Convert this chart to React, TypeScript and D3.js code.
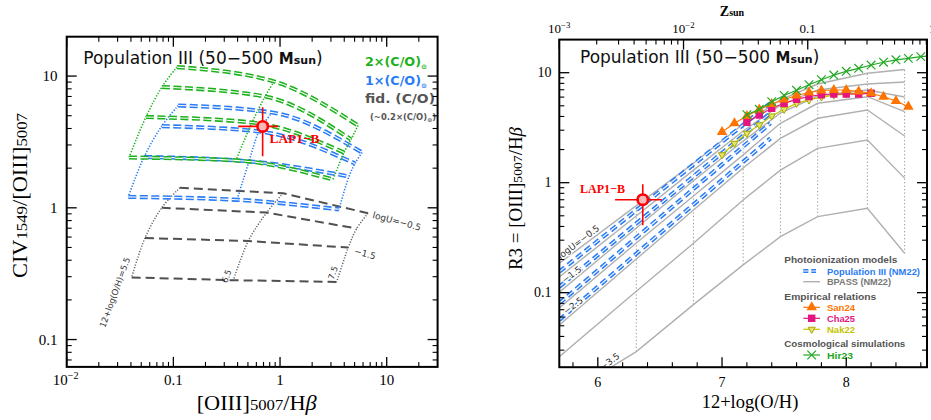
import React from 'react';
import * as d3 from 'd3';

// ================= LEFT PANEL DATA =================
const LEFT_X_MAJOR = [0.01, 0.1, 1, 10];
const LEFT_X_LABELS = ['10^−2', '0.1', '1', '10'];
const LEFT_Y_MAJOR = [0.1, 1, 10];
const LEFT_Y_LABELS = ['0.1', '1', '10'];

// rows: logU (top -> bottom); columns: 12+log(O/H) = 5.5, 6.5, 7.5
const GRID_OH_LABELS = ['12+log(O/H)=5.5', '6.5', '7.5'];
const FID_O3HB = [[0.115, 1.07, 6.68], [0.0778, 0.75, 5.23], [0.0542, 0.504, 4.36], [0.0406, 0.365, 3.4]];
const FID_C4O3 = [[1.42, 1.29, 0.909], [1.0, 0.92, 0.696], [0.59, 0.56, 0.499], [0.296, 0.282, 0.274]];
const CO1_O3HB = [[0.111, 0.841, 5.87], [0.0778, 0.635, 5.05], [0.0531, 0.512, 4.43], [0.0378, 0.395, 3.57]];
const CO1_C4O3 = [[5.98, 5.29, 2.63], [4.17, 3.8, 2.17], [2.43, 2.25, 1.73], [1.21, 1.15, 0.974]];
const CO2_O3HB = [[0.108, 0.877, 5.38], [0.0781, 0.723, 4.63], [0.0553, 0.546, 3.98], [0.0384, 0.386, 3.14]];
const CO2_C4O3 = [[11.7, 9.09, 4.22], [8.26, 6.99, 3.3], [4.89, 4.44, 2.63], [2.41, 2.29, 1.64]];

const LAP1B_O3HB = 0.687;
const LAP1B_O3HB_ERR = [0.405, 0.96];
const LAP1B_C4O3 = 4.15;
const LAP1B_C4O3_ERR = [2.46, 5.8];

// ================= RIGHT PANEL DATA =================
const RIGHT_X_MAJOR = [6, 7, 8];
const RIGHT_Y_MAJOR = [0.1, 1, 10];
const RIGHT_Y_LABELS = ['0.1', '1', '10'];
const ZSUN_OH = 8.69;
const TOP_Z_MAJOR = [0.001, 0.01, 0.1, 1];
const TOP_Z_LABELS = ['10^−3', '10^−2', '0.1', '1'];

const BPASS_OH = [5.69, 6.31, 6.77, 7.17, 7.47, 7.77, 8.17, 8.47];
const BPASS_LOGU = ['−0.5', '−1.0', '−1.5', '−2.0', '−2.5', '−3.0', '−3.5'];
const BPASS_R3 = [
  [0.185, 0.618, 1.5, 3.42, 5.65, 7.89, 9.88, 10.7],
  [0.139, 0.498, 1.3, 2.95, 5.08, 6.97, 7.89, 8.22],
  [0.101, 0.387, 1.04, 2.39, 4.3, 6.14, 6.97, 6.01],
  [0.0726, 0.283, 0.757, 1.79, 3.47, 5.27, 6.05, 4.42],
  [0.0508, 0.202, 0.565, 1.36, 2.53, 3.85, 4.58, 2.66],
  [0.0262, 0.103, 0.281, 0.697, 1.3, 2.05, 2.44, 1.1],
  [0.0108, 0.0291, 0.0778, 0.179, 0.323, 0.491, 0.585, 0.228],
];
const POP3_OH = [5.69, 7.39];
const POP3_R3 = [[0.155, 5.3], [0.113, 4.3], [0.0801, 3.47], [0.0565, 2.53]];

const SAN24_OH = [7.0, 7.1, 7.2, 7.3, 7.4, 7.5, 7.6, 7.7, 7.8, 7.9, 8.0, 8.1, 8.2, 8.3, 8.4, 8.5];
const SAN24_R3 = [2.89, 3.47, 4.04, 4.63, 5.19, 5.71, 6.21, 6.61, 6.89, 6.96, 6.96, 6.75, 6.5, 6.05, 5.53, 4.91];
const CHA25_OH = [7.2, 7.3, 7.4, 7.5, 7.6, 7.7, 7.8, 7.9, 8.0, 8.1, 8.2];
const CHA25_R3 = [3.54, 4.12, 4.75, 5.27, 5.73, 6.08, 6.31, 6.4, 6.4, 6.4, 6.5];
const NAK22_OH = [7.0, 7.1, 7.2, 7.3, 7.4, 7.5, 7.6, 7.7, 7.8, 7.9, 8.0, 8.1, 8.2];
const NAK22_R3 = [1.79, 2.28, 2.81, 3.35, 4.04, 4.65, 5.27, 5.65, 6.01, 6.27, 6.4, 6.47, 6.54];
const HIR23_OH = [7.2, 7.3, 7.4, 7.5, 7.6, 7.7, 7.8, 7.9, 8.0, 8.1, 8.2, 8.3, 8.4, 8.5, 8.6, 8.7];
const HIR23_R3 = [4.15, 4.65, 5.45, 6.21, 6.92, 7.78, 8.64, 9.52, 10.3, 10.96, 11.75, 12.45, 13.1, 13.5, 14.0, 14.3];

const LAP1B_OH = 6.362;
const LAP1B_OH_ERR = [6.139, 6.515];
const LAP1B_R3 = 0.7;
const LAP1B_R3_ERR = [0.41, 0.967];

// ================= STYLE =================
const GREEN = '#1db21d';
const BLUE = '#2a7cf5';
const FIDGREY = '#505050';
const ORANGE = '#ff7300';
const MAGENTA = '#e5157f';
const YELLOW = '#c4c400';
const HGREEN = '#22a822';
const RED = '#ff0000';
const SERIF = '"Liberation Serif", "Times New Roman", serif';
const SANS = '"DejaVu Sans", sans-serif';
const LSANS = '"Liberation Sans", Arial, sans-serif';

function logMinors(lo: number, hi: number) {
  const out: number[] = [];
  for (let k = -5; k <= 2; k++) for (let m = 2; m <= 9; m++) {
    const v = m * Math.pow(10, k);
    if (v > lo * 1.0001 && v < hi * 0.9999) out.push(v);
  }
  return out;
}

function interpLog(xs: number[], ys: number[], x: number) {
  for (let i = 0; i < xs.length - 1; i++) {
    if (x >= xs[i] && x <= xs[i + 1]) {
      const t = (x - xs[i]) / (xs[i + 1] - xs[i]);
      return Math.pow(10, Math.log10(ys[i]) + t * (Math.log10(ys[i + 1]) - Math.log10(ys[i])));
    }
  }
  return ys[ys.length - 1];
}

function SupLabel({ x, y, label, size, anchor = 'middle' }: any) {
  if (label.includes('^')) {
    const [b, e] = label.split('^');
    return (
      <text x={x} y={y} textAnchor={anchor} fontFamily={SERIF} fontSize={size}>
        <tspan>{b}</tspan>
        <tspan dy={-size * 0.42} fontSize={size * 0.68}>{e}</tspan>
      </text>
    );
  }
  return <text x={x} y={y} textAnchor={anchor} fontFamily={SERIF} fontSize={size}>{label}</text>;
}

function DoubleDash({ d, color, dash, w = 4.2 }: any) {
  return (
    <g>
      <path d={d} fill="none" stroke={color} strokeWidth={w} strokeDasharray={dash} />
      <path d={d} fill="none" stroke="#fff" strokeWidth={1.1} strokeDasharray={dash} />
    </g>
  );
}

function Title({ x, y }: any) {
  return (
    <text x={x} y={y} fontFamily={SANS} fontSize={17} fill="#111">
      Population III (50−500 <tspan fontWeight="bold" fontSize={15}>M</tspan><tspan fontWeight="bold" fontSize={11}>sun</tspan><tspan fontSize={17}>)</tspan>
    </text>
  );
}

export default function App() {
  const xL = d3.scaleLog().domain([0.01, 30]).range([66.7, 437.6]);
  const yL = d3.scaleLog().domain([0.062, 19.9]).range([366.9, 36.7]);
  const xR = d3.scaleLinear().domain([5.69, 8.65]).range([559.3, 927]);
  const yR = d3.scaleLog().domain([0.021, 20]).range([367.2, 39.6]);

  const L = { x0: 66.7, x1: 437.6, y0: 36.7, y1: 366.9 };
  const R = { x0: 559.3, x1: 927, y0: 39.6, y1: 367.2 };

  const lineL = d3.line<number[]>().x((d) => xL(d[0])).y((d) => yL(d[1]));
  const lineLsmooth = d3.line<number[]>().x((d) => xL(d[0])).y((d) => yL(d[1])).curve(d3.curveMonotoneX);
  const lineLcol = d3.line<number[]>().x((d) => xL(d[0])).y((d) => yL(d[1])).curve(d3.curveCatmullRom.alpha(0.5));
  const lineR = d3.line<number[]>().x((d) => xR(d[0])).y((d) => yR(d[1]));

  const rows = (X: number[][], Y: number[][]) => X.map((r, i) => r.map((x, j) => [x, Y[i][j]]));
  const cols = (X: number[][], Y: number[][]) => X[0].map((_, j) => X.map((r, i) => [r[j], Y[i][j]]));

  const fidRows = rows(FID_O3HB, FID_C4O3);
  const fidCols = cols(FID_O3HB, FID_C4O3);
  const co1Rows = rows(CO1_O3HB, CO1_C4O3);
  const co1Cols = cols(CO1_O3HB, CO1_C4O3);
  const co2Rows = rows(CO2_O3HB, CO2_C4O3);
  const co2Cols = cols(CO2_O3HB, CO2_C4O3);

  const lxMinor = logMinors(0.01, 30);
  const lyMinor = logMinors(0.062, 19.9);
  const ryMinor = logMinors(0.021, 20);
  const rxMinor = d3.range(5.8, 8.65, 0.2).filter((v) => Math.abs(v - Math.round(v)) > 0.05);
  const topMinor = logMinors(0.001, Math.pow(10, 8.65 - ZSUN_OH)).map((z) => ZSUN_OH + Math.log10(z));
  const topMajor = TOP_Z_MAJOR.map((z) => ZSUN_OH + Math.log10(z));

  const MAJ = 10, MIN = 5;

  const sym = (type: any, size: number) => d3.symbol().type(type).size(size)() as string;
  const triUp = sym(d3.symbolTriangle, 48);
  const triDn = sym(d3.symbolTriangle, 22);
  const square = sym(d3.symbolSquare, 55);
  const xMark = sym(d3.symbolX, 50);

  const fidEnd0 = fidRows[0][2];
  const fidEnd2 = fidRows[2][2];
  const lblOH = [5.871, 5.817, 5.829, 6.123];
  const lblRows = [0, 2, 4, 6];

  return (
    <svg width={931} height={420} style={{ position: 'absolute', left: 0, top: 0, background: '#fff' }}>
      <defs>
        <clipPath id="clipL"><rect x={L.x0} y={L.y0} width={L.x1 - L.x0} height={L.y1 - L.y0} /></clipPath>
        <clipPath id="clipR"><rect x={R.x0} y={R.y0} width={R.x1 - R.x0} height={R.y1 - R.y0} /></clipPath>
      </defs>

      {/* ================= LEFT PANEL ================= */}
      <g clipPath="url(#clipL)">
        {fidCols.map((c, i) => (
          <path key={'fc' + i} d={lineLcol(c) as string} fill="none" stroke="#666" strokeWidth={1.5} strokeDasharray="1.2 1.6" />
        ))}
        {fidRows.map((r, i) => (
          <path key={'fr' + i} d={lineL(r) as string} fill="none" stroke={FIDGREY} strokeWidth={2} strokeDasharray="9 5" />
        ))}
        {co1Cols.map((c, i) => (
          <path key={'bc' + i} d={lineLcol(c) as string} fill="none" stroke={BLUE} strokeWidth={1.6} strokeDasharray="1.3 1.6" />
        ))}
        {co1Rows.map((r, i) => (
          <DoubleDash key={'br' + i} d={lineLsmooth(r)} color={BLUE} dash="8 3.5" />
        ))}
        {co2Cols.map((c, i) => (
          <path key={'gc' + i} d={lineLcol(c) as string} fill="none" stroke={GREEN} strokeWidth={1.6} strokeDasharray="1.3 1.6" />
        ))}
        {co2Rows.map((r, i) => (
          <DoubleDash key={'gr' + i} d={lineLsmooth(r)} color={GREEN} dash="8 3.5" />
        ))}

        <line x1={xL(LAP1B_O3HB_ERR[0])} x2={xL(LAP1B_O3HB_ERR[1])} y1={yL(LAP1B_C4O3)} y2={yL(LAP1B_C4O3)} stroke={RED} strokeWidth={1.6} />
        <line x1={xL(LAP1B_O3HB)} x2={xL(LAP1B_O3HB)} y1={yL(LAP1B_C4O3_ERR[0])} y2={yL(LAP1B_C4O3_ERR[1])} stroke={RED} strokeWidth={1.6} />
        <circle cx={xL(LAP1B_O3HB)} cy={yL(LAP1B_C4O3)} r={5.2} fill="#f7b8b8" stroke={RED} strokeWidth={2.6} />
      </g>

      <text transform={`translate(${xL(fidEnd0[0]) + 28},${yL(fidEnd0[1]) + 11}) rotate(15)`} textAnchor="middle" fontFamily={SANS} fontSize={9} fill="#333">logU=−0.5</text>
      <text transform={`translate(${xL(fidEnd2[0]) + 16},${yL(fidEnd2[1]) + 9}) rotate(15)`} textAnchor="middle" fontFamily={SANS} fontSize={9} fill="#333">−1.5</text>
      {fidRows[3].map((p, j) => {
        const off = [[-14, 16], [-4, -3], [-1, -8]][j];
        return (
          <text key={'ohl' + j} transform={`translate(${xL(p[0]) + off[0]},${yL(p[1]) + off[1]}) rotate(-70)`} textAnchor="middle" fontFamily={SANS} fontSize={8.5} fill="#333">{GRID_OH_LABELS[j]}</text>
        );
      })}
      <text x={269.5} y={143.3} fontFamily={SERIF} fontWeight="bold" fontSize={13} fill={RED} textLength={50} lengthAdjust="spacingAndGlyphs">LAP1−B</text>

      <Title x={83.3} y={64} />
      <text x={365} y={66} fontFamily={SANS} fontWeight="bold" fontSize={12.5} fill={GREEN} textLength={62} lengthAdjust="spacingAndGlyphs">
        2×(C/O)<tspan fontSize={7} dy={3}>⊙</tspan>
      </text>
      <text x={365} y={84.5} fontFamily={SANS} fontWeight="bold" fontSize={12.5} fill={BLUE} textLength={62} lengthAdjust="spacingAndGlyphs">
        1×(C/O)<tspan fontSize={7} dy={3}>⊙</tspan>
      </text>
      <text x={365} y={103} fontFamily={SANS} fontWeight="bold" fontSize={12.5} fill="#555" textLength={70} lengthAdjust="spacingAndGlyphs">fid. (C/O)</text>
      <text x={370} y={120} fontFamily={SANS} fontWeight="bold" fontSize={8.5} fill="#555" textLength={66} lengthAdjust="spacingAndGlyphs">
        (~0.2×(C/O)<tspan fontSize={6} dy={2}>⊙</tspan><tspan dy={-2}>)</tspan>
      </text>

      {/* left axes */}
      <rect x={L.x0} y={L.y0} width={L.x1 - L.x0} height={L.y1 - L.y0} fill="none" stroke="#000" strokeWidth={2} />
      {LEFT_X_MAJOR.map((v) => (
        <g key={'lxm' + v}>
          <line x1={xL(v)} x2={xL(v)} y1={L.y1} y2={L.y1 - MAJ} stroke="#000" strokeWidth={1.3} />
          <line x1={xL(v)} x2={xL(v)} y1={L.y0} y2={L.y0 + MAJ} stroke="#000" strokeWidth={1.3} />
        </g>
      ))}
      {lxMinor.map((v) => (
        <g key={'lxn' + v}>
          <line x1={xL(v)} x2={xL(v)} y1={L.y1} y2={L.y1 - MIN} stroke="#000" strokeWidth={1.1} />
          <line x1={xL(v)} x2={xL(v)} y1={L.y0} y2={L.y0 + MIN} stroke="#000" strokeWidth={1.1} />
        </g>
      ))}
      {LEFT_Y_MAJOR.map((v) => (
        <g key={'lym' + v}>
          <line x1={L.x0} x2={L.x0 + MAJ} y1={yL(v)} y2={yL(v)} stroke="#000" strokeWidth={1.3} />
          <line x1={L.x1} x2={L.x1 - MAJ} y1={yL(v)} y2={yL(v)} stroke="#000" strokeWidth={1.3} />
        </g>
      ))}
      {lyMinor.map((v) => (
        <g key={'lyn' + v}>
          <line x1={L.x0} x2={L.x0 + MIN} y1={yL(v)} y2={yL(v)} stroke="#000" strokeWidth={1.1} />
          <line x1={L.x1} x2={L.x1 - MIN} y1={yL(v)} y2={yL(v)} stroke="#000" strokeWidth={1.1} />
        </g>
      ))}
      {LEFT_X_MAJOR.map((v, i) => (
        <SupLabel key={'lxl' + v} x={xL(v) - (i === 0 ? 1 : 0)} y={385} label={LEFT_X_LABELS[i]} size={15} />
      ))}
      {LEFT_Y_MAJOR.map((v, i) => (
        <SupLabel key={'lyl' + v} x={57.5} y={yL(v) + 5} label={LEFT_Y_LABELS[i]} size={15} anchor="end" />
      ))}
      <text x={256.7} y={410} textAnchor="middle" fontFamily={SERIF} fontSize={20} textLength={120} lengthAdjust="spacingAndGlyphs">
        [OIII]<tspan fontSize={15}>5007</tspan>/H<tspan fontStyle="italic">β</tspan>
      </text>
      <text transform="translate(27,195.5) rotate(-90)" textAnchor="middle" fontFamily={SERIF} fontSize={20} textLength={165} lengthAdjust="spacingAndGlyphs">
        CIV<tspan fontSize={15}>1549</tspan>/[OIII]<tspan fontSize={15}>5007</tspan>
      </text>

      {/* ================= RIGHT PANEL ================= */}
      <g clipPath="url(#clipR)">
        {BPASS_OH.slice(1).map((x, k) => (
          <line key={'vd' + k} x1={xR(x)} x2={xR(x)} y1={yR(BPASS_R3[6][k + 1])} y2={yR(BPASS_R3[0][k + 1])} stroke="#999" strokeWidth={1} strokeDasharray="1.3 2.2" />
        ))}
        {BPASS_R3.map((r, i) => (
          <path key={'bp' + i} d={lineR(BPASS_OH.map((x, j) => [x, r[j]])) as string} fill="none" stroke="#b0b0b0" strokeWidth={1.4} />
        ))}
        {POP3_R3.map((r, i) => (
          <DoubleDash key={'p3' + i} d={lineR(POP3_OH.map((x, j) => [x, r[j]]))} color={BLUE} dash="7 4" />
        ))}
        <path d={lineR(NAK22_OH.map((x, j) => [x, NAK22_R3[j]])) as string} fill="none" stroke={YELLOW} strokeWidth={1.3} />
        {NAK22_OH.map((x, j) => (
          <path key={'nk' + j} d={triDn} transform={`translate(${xR(x)},${yR(NAK22_R3[j])}) rotate(180)`} fill="#e4e46a" stroke="#a8a800" strokeWidth={1} />
        ))}
        <path d={lineR(CHA25_OH.map((x, j) => [x, CHA25_R3[j]])) as string} fill="none" stroke={MAGENTA} strokeWidth={1.2} />
        {CHA25_OH.map((x, j) => (
          <path key={'ch' + j} d={square} transform={`translate(${xR(x)},${yR(CHA25_R3[j])})`} fill={MAGENTA} />
        ))}
        <path d={lineR(SAN24_OH.map((x, j) => [x, SAN24_R3[j]])) as string} fill="none" stroke={ORANGE} strokeWidth={1.2} />
        {SAN24_OH.map((x, j) => (
          <path key={'sa' + j} d={triUp} transform={`translate(${xR(x)},${yR(SAN24_R3[j])})`} fill={ORANGE} />
        ))}
        <path d={lineR(HIR23_OH.map((x, j) => [x, HIR23_R3[j]])) as string} fill="none" stroke={HGREEN} strokeWidth={1.2} />
        {HIR23_OH.map((x, j) => (
          <path key={'hi' + j} d={xMark} transform={`translate(${xR(x)},${yR(HIR23_R3[j])})`} fill="none" stroke={HGREEN} strokeWidth={1.2} />
        ))}
        {lblRows.map((ri, k) => {
          const x = lblOH[k];
          const y = interpLog(BPASS_OH, BPASS_R3[ri], x);
          return (
            <text key={'ul' + k} transform={`translate(${xR(x)},${yR(y)}) rotate(-37)`} dy={-2.5} textAnchor="middle" fontFamily={SANS} fontSize={9} fill="#333" stroke="#fff" strokeWidth={2.5} paintOrder="stroke">
              {k === 0 ? 'logU=' + BPASS_LOGU[ri] : BPASS_LOGU[ri]}
            </text>
          );
        })}
        <line x1={xR(LAP1B_OH_ERR[0])} x2={xR(LAP1B_OH_ERR[1])} y1={yR(LAP1B_R3)} y2={yR(LAP1B_R3)} stroke={RED} strokeWidth={1.6} />
        <line x1={xR(LAP1B_OH)} x2={xR(LAP1B_OH)} y1={yR(LAP1B_R3_ERR[0])} y2={yR(LAP1B_R3_ERR[1])} stroke={RED} strokeWidth={1.6} />
        <circle cx={xR(LAP1B_OH)} cy={yR(LAP1B_R3)} r={5.2} fill="#f7b8b8" stroke={RED} strokeWidth={2.6} />
      </g>
      <text x={580} y={192.5} fontFamily={SERIF} fontWeight="bold" fontSize={12.5} fill={RED} textLength={45} lengthAdjust="spacingAndGlyphs">LAP1−B</text>

      <Title x={580} y={63.3} />

      {/* legend right */}
      <g fontFamily={LSANS} fontWeight="bold" fontSize={9.5}>
        <text x={784.3} y={262.5} fill="#555" textLength={113} lengthAdjust="spacingAndGlyphs">Photoionization models</text>
        <DoubleDash d="M803.3,271 L816,271" color={BLUE} dash="5 3" />
        <text x={827} y={274.5} fill={BLUE} textLength={93} lengthAdjust="spacingAndGlyphs">Population III (NM22)</text>
        <line x1={803.3} x2={820} y1={281.7} y2={281.7} stroke="#b0b0b0" strokeWidth={1.4} />
        <text x={827} y={285.2} fill="#777" textLength={64} lengthAdjust="spacingAndGlyphs">BPASS (NM22)</text>
        <text x={784.3} y={299.5} fill="#555" textLength={92} lengthAdjust="spacingAndGlyphs">Empirical relations</text>
        <line x1={803.3} x2={820} y1={307.3} y2={307.3} stroke={ORANGE} strokeWidth={1.2} />
        <path d={triUp} transform="translate(811.7,307.3)" fill={ORANGE} />
        <text x={827} y={310.8} fill={ORANGE} textLength={28} lengthAdjust="spacingAndGlyphs">San24</text>
        <line x1={803.3} x2={820} y1={318.3} y2={318.3} stroke={MAGENTA} strokeWidth={1.2} />
        <path d={square} transform="translate(811.7,318.3)" fill={MAGENTA} />
        <text x={827} y={321.8} fill={MAGENTA} textLength={28} lengthAdjust="spacingAndGlyphs">Cha25</text>
        <line x1={803.3} x2={820} y1={329.3} y2={329.3} stroke={YELLOW} strokeWidth={1.2} />
        <path d={triDn} transform="translate(811.7,329.3) rotate(180)" fill="#e4e46a" stroke="#a8a800" strokeWidth={1} />
        <text x={827} y={332.8} fill={YELLOW} textLength={28} lengthAdjust="spacingAndGlyphs">Nak22</text>
        <text x={784.3} y={346.8} fill="#555" textLength={121} lengthAdjust="spacingAndGlyphs">Cosmological simulations</text>
        <line x1={803.3} x2={820} y1={355} y2={355} stroke={HGREEN} strokeWidth={1.2} />
        <path d={xMark} transform="translate(811.7,355)" fill="none" stroke={HGREEN} strokeWidth={1.2} />
        <text x={827} y={358.5} fill={HGREEN} textLength={26} lengthAdjust="spacingAndGlyphs">Hir23</text>
      </g>

      {/* right axes */}
      <rect x={R.x0} y={R.y0} width={R.x1 - R.x0} height={R.y1 - R.y0} fill="none" stroke="#000" strokeWidth={2} />
      {RIGHT_X_MAJOR.map((v) => (
        <line key={'rxm' + v} x1={xR(v)} x2={xR(v)} y1={R.y1} y2={R.y1 - MAJ} stroke="#000" strokeWidth={1.3} />
      ))}
      {rxMinor.map((v) => (
        <line key={'rxn' + v} x1={xR(v)} x2={xR(v)} y1={R.y1} y2={R.y1 - MIN} stroke="#000" strokeWidth={1.1} />
      ))}
      {topMajor.filter((v) => v <= 8.65).map((v) => (
        <line key={'txm' + v} x1={xR(v)} x2={xR(v)} y1={R.y0} y2={R.y0 + MAJ} stroke="#000" strokeWidth={1.3} />
      ))}
      {topMinor.map((v) => (
        <line key={'txn' + v} x1={xR(v)} x2={xR(v)} y1={R.y0} y2={R.y0 + MIN} stroke="#000" strokeWidth={1.1} />
      ))}
      {RIGHT_Y_MAJOR.map((v) => (
        <g key={'rym' + v}>
          <line x1={R.x0} x2={R.x0 + MAJ} y1={yR(v)} y2={yR(v)} stroke="#000" strokeWidth={1.3} />
          <line x1={R.x1} x2={R.x1 - MAJ} y1={yR(v)} y2={yR(v)} stroke="#000" strokeWidth={1.3} />
        </g>
      ))}
      {ryMinor.map((v) => (
        <g key={'ryn' + v}>
          <line x1={R.x0} x2={R.x0 + MIN} y1={yR(v)} y2={yR(v)} stroke="#000" strokeWidth={1.1} />
          <line x1={R.x1} x2={R.x1 - MIN} y1={yR(v)} y2={yR(v)} stroke="#000" strokeWidth={1.1} />
        </g>
      ))}
      {RIGHT_X_MAJOR.map((v) => (
        <SupLabel key={'rxl' + v} x={xR(v)} y={386.5} label={String(v)} size={14} />
      ))}
      {RIGHT_Y_MAJOR.map((v, i) => (
        <SupLabel key={'ryl' + v} x={551.5} y={yR(v) + 4.5} label={RIGHT_Y_LABELS[i]} size={14} anchor="end" />
      ))}
      {topMajor.map((v, i) => (
        <SupLabel key={'tl' + i} x={xR(v)} y={33} label={TOP_Z_LABELS[i]} size={13} />
      ))}
      <text x={732} y={15.5} textAnchor="middle" fontFamily={SERIF} fontWeight="bold" fontSize={14}>
        Z<tspan fontSize={10}>sun</tspan>
      </text>
      <text x={750} y={408} textAnchor="middle" fontFamily={SERIF} fontSize={19} textLength={96.6} lengthAdjust="spacingAndGlyphs">12+log(O/H)</text>
      <text transform="translate(522,198.5) rotate(-90)" textAnchor="middle" fontFamily={SERIF} fontSize={18} textLength={143} lengthAdjust="spacingAndGlyphs">
        R3 = [OIII]<tspan fontSize={13}>5007</tspan>/H<tspan fontStyle="italic">β</tspan>
      </text>
    </svg>
  );
}
